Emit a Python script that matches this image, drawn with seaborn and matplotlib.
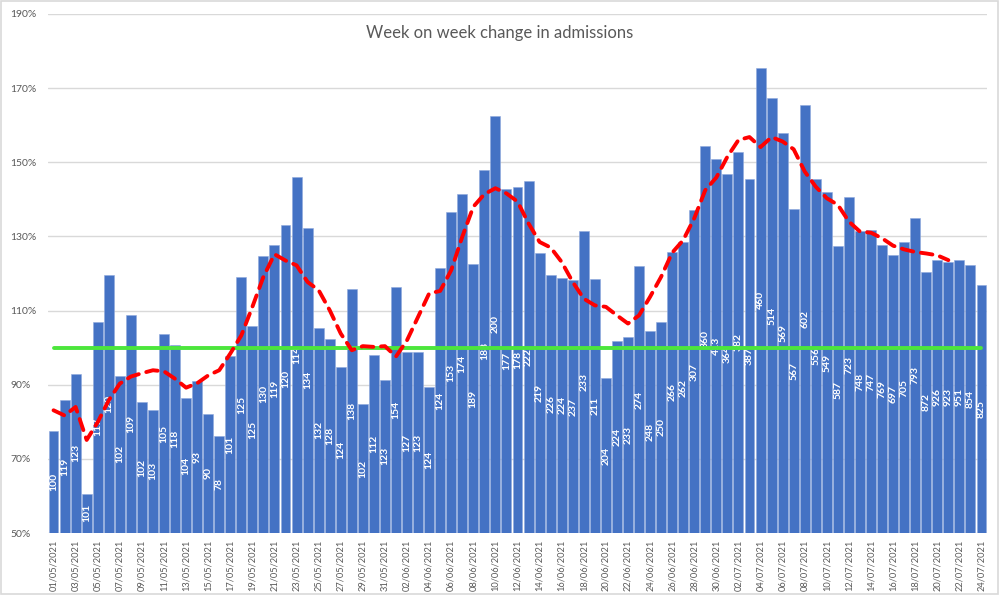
import numpy as np
import pandas as pd
import matplotlib
matplotlib.use("Agg")
import matplotlib.pyplot as plt
import matplotlib.patches as mpatches
import seaborn as sns

# ---------------- data ----------------
dates = pd.date_range("2021-05-01", "2021-07-24", freq="D").strftime("%d/%m/%Y").tolist()

week_change_pct = [
    77.6, 85.9, 93.0, 60.6, 107.0, 119.7, 92.4, 108.7, 85.3, 83.3,
    103.7, 100.6, 86.3, 90.9, 82.2, 76.2, 97.7, 119.0, 105.8, 124.8,
    127.8, 133.2, 145.9, 132.4, 105.4, 102.2, 94.9, 115.7, 84.7, 98.1,
    91.4, 116.4, 98.8, 98.8, 89.5, 121.5, 136.6, 141.4, 122.5, 148.0,
    162.5, 142.7, 143.4, 144.9, 125.6, 119.5, 118.9, 118.2, 131.4, 118.5,
    91.7, 101.9, 103.0, 122.0, 104.4, 107.0, 125.8, 128.4, 137.1, 154.4,
    150.9, 146.8, 152.9, 145.5, 175.5, 167.4, 158.0, 137.3, 165.4, 145.5,
    141.9, 127.4, 140.6, 131.5, 131.7, 127.6, 125.1, 128.4, 135.0, 120.5,
    123.6, 123.2, 123.6, 122.2, 116.8,
]

admissions = [
    100, 119, 123, 101, 117, 120, 102, 109, 102, 103,
    105, 118, 104, 93, 90, 78, 101, 125, 125, 130,
    119, 120, 114, 134, 132, 128, 124, 138, 102, 112,
    123, 154, 127, 123, 124, 124, 153, 174, 189, 188,
    200, 177, 178, 222, 219, 226, 224, 237, 233, 211,
    204, 224, 233, 274, 248, 250, 266, 262, 307, 360,
    413, 364, 382, 387, 460, 514, 569, 567, 602, 556,
    549, 587, 723, 748, 747, 769, 697, 705, 793, 872,
    926, 923, 951, 854, 825,
]

trend_pct = [
    83.1, 81.7, 84.0, 75.1, 79.9, 85.8, 90.3, 92.2, 93.1, 93.9,
    93.6, 91.6, 89.2, 90.4, 92.5, 93.9, 98.4, 103.3, 111.0, 119.1,
    125.2, 123.5, 122.2, 117.7, 115.5, 110.1, 103.8, 99.3, 100.4, 100.2,
    100.4, 97.6, 102.0, 108.3, 114.6, 115.3, 120.9, 129.9, 138.0, 141.4,
    143.0, 141.6, 139.4, 133.5, 128.5, 127.0, 123.1, 117.7, 113.2, 111.4,
    111.0, 108.7, 106.5, 108.7, 113.7, 119.1, 125.6, 129.0, 134.9, 142.5,
    145.9, 151.5, 156.0, 156.8, 154.1, 156.8, 155.6, 153.5, 147.5, 143.4,
    140.3, 138.5, 134.0, 131.3, 131.0, 129.5, 127.5, 126.5, 125.8, 125.4,
    124.9, 123.6, np.nan, np.nan, np.nan,
]

baseline_pct = 100
y_ticks = [50, 70, 90, 110, 130, 150, 170, 190]
title = "Week on week change in admissions"

# ---------------- style ----------------
sns.set_theme(style="white")
plt.rcParams["font.family"] = ["Lato", "DejaVu Sans"]

BAR = "#4472C4"
GREY = "#595959"

n = len(dates)
pos = np.arange(n)
df = pd.DataFrame({"date": dates, "pct": week_change_pct})

fig = plt.figure(figsize=(10, 5.95), dpi=100)
ax = fig.add_axes([0.048, 0.1042, 0.939, 0.8723])

sns.barplot(data=df, x="date", y="pct", color=BAR, saturation=1, width=0.9,
            edgecolor="#8FA9DC", linewidth=0.4, ax=ax, zorder=2)

cont = ax.containers[0]
ax.bar_label(cont, labels=[str(v) for v in admissions], label_type="center",
             rotation=90, color="white", fontsize=7.5, fontweight="bold")

sns.lineplot(x=pos, y=[baseline_pct] * n, color="#4CE63C", linewidth=2.8,
             ax=ax, zorder=4)
sns.lineplot(x=pos, y=trend_pct, color="#FF0000", linewidth=2.8, ax=ax,
             zorder=5, dashes=False)
ax.lines[-1].set_dashes((3.0, 2.0))
ax.lines[-1].set_dash_capstyle("round")
ax.lines[-1].set_solid_joinstyle("round")

ax.set_xlim(-0.5, n - 0.5)
ax.set_ylim(50, 190)
ax.set_yticks(y_ticks)
ax.set_yticklabels([f"{t}%" for t in y_ticks], color=GREY, fontsize=7.5)
ax.set_xticks(pos[::2])
ax.set_xticklabels([dates[i] for i in pos[::2]], rotation=90, color=GREY,
                   fontsize=6.7)
ax.tick_params(axis="y", length=0, pad=27)
ax.tick_params(axis="x", length=3, color="#D9D9D9", pad=2)
ax.grid(axis="y", color="#D9D9D9", linewidth=1, zorder=0)
ax.set_axisbelow(True)
for s in ax.spines.values():
    s.set_visible(False)
ax.set_xlabel("")
ax.set_ylabel("")
for lbl in ax.get_yticklabels():
    lbl.set_horizontalalignment("left")

fig.text(0.5, 0.945, title, ha="center", va="center", fontsize=12,
         color=GREY)
fig.add_artist(mpatches.Rectangle((0.001, 0.001), 0.997, 0.997,
                                  transform=fig.transFigure, fill=False,
                                  edgecolor="#D9D9D9", linewidth=1.2))

fig.savefig("out.png", dpi=100)
